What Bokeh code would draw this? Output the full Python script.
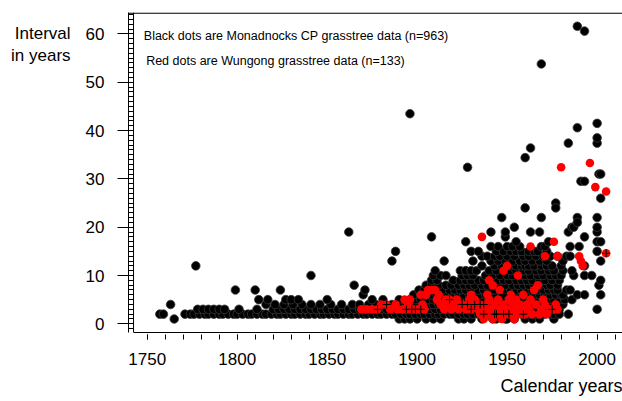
from bokeh.plotting import figure
from bokeh.models import Range1d, Span, Label, SingleIntervalTicker, Title
from bokeh.embed import file_html
from bokeh.resources import INLINE

FONT = "Liberation Sans"

# ---------------- Monadnocks CP (black dots): years listed per interval value ----------------
mon_1 = [1765, 1890, 1893, 1896, 1900, 1905, 1909, 1913, 1923, 1926, 1930, 1936, 1942, 1944,
         1949, 1950, 1954, 1960, 1964, 1968, 1976]
mon_2 = [1757, 1759, 1771, 1774, 1776, 1779, 1782, 1784, 1787, 1790, 1792, 1795, 1798, 1800,
         1803, 1806, 1808, 1811, 1814, 1816, 1819, 1822, 1824, 1827, 1830, 1832, 1835, 1838,
         1840, 1843, 1846, 1848, 1851, 1854, 1856, 1859, 1862, 1864, 1867, 1870, 1872, 1875,
         1878, 1880, 1883, 1886, 1888, 1891, 1894, 1896, 1899, 1902, 1904, 1907, 1910, 1912,
         1915, 1918, 1920, 1923, 1926, 1928, 1931, 1934, 1936, 1939, 1942, 1944, 1947, 1950,
         1952, 1955, 1958, 1960, 1963, 1966, 1968, 1971, 1974, 1976, 1979, 1984]
mon_3 = [1778, 1781, 1784, 1787, 1790, 1793, 1801, 1811, 1820, 1823, 1826, 1829, 1832, 1835,
         1838, 1841, 1844, 1847, 1850, 1853, 1856, 1859, 1862, 1865, 1868, 1871, 1874, 1877,
         1880, 1883, 1886, 1889, 1892, 1895, 1898, 1901, 1904, 1907, 1910, 1913, 1916, 1919,
         1922, 1925, 1928, 1931, 1934, 1937, 1940, 1943, 1946, 1949, 1952, 1955, 1958, 1961,
         1964, 1967, 1970, 1973, 1976, 1979, 2000]
mon_4 = [1763, 1816, 1821, 1826, 1831, 1836, 1841, 1846, 1852, 1858, 1864, 1868, 1873, 1877,
         1882, 1886, 1890, 1894, 1897, 1900, 1903, 1906, 1909, 1912, 1915, 1918, 1921, 1924,
         1927, 1930, 1933, 1936, 1939, 1942, 1945, 1948, 1951, 1954, 1957, 1960, 1963, 1966,
         1969, 1972, 1975, 1978, 1981]
mon_5 = [1812, 1817, 1827, 1830, 1834, 1850, 1875, 1881, 1890, 1896, 1899, 1902, 1906, 1909,
         1912, 1915, 1919, 1922, 1925, 1928, 1931, 1934, 1937, 1940, 1943, 1946, 1949, 1952,
         1955, 1958, 1961, 1964, 1967, 1970, 1973, 1976, 1979, 1982, 1986]
mon_6 = [1870, 1898, 1902, 1905, 1908, 1911, 1914, 1917, 1920, 1923, 1926, 1929, 1932, 1935,
         1938, 1941, 1944, 1947, 1950, 1953, 1956, 1959, 1962, 1965, 1968, 1971, 1974, 1977,
         1980, 1981, 1989, 1993, 2002]
mon_7 = [1799, 1810, 1824, 1871, 1901, 1904, 1907, 1911, 1914, 1918, 1921, 1924, 1927, 1930,
         1934, 1937, 1940, 1943, 1946, 1949, 1952, 1955, 1958, 1961, 1964, 1967, 1970, 1973,
         1976, 1978, 1983, 1985]
mon_8 = [1865, 1905, 1908, 1912, 1916, 1919, 1923, 1926, 1929, 1932, 1936, 1939, 1943, 1946,
         1949, 1953, 1956, 1959, 1962, 1965, 1968, 1972, 1974, 1978, 2001]
mon_9 = [1908, 1911, 1920, 1924, 1927, 1930, 1934, 1937, 1941, 1945, 1948, 1951, 1955, 1958,
         1961, 1964, 1968, 1971, 1975, 1979, 2002]
mon_10 = [1841, 1909, 1913, 1916, 1925, 1928, 1931, 1938, 1942, 1946, 1950, 1953, 1957, 1960,
          1963, 1967, 1970, 1974, 1977, 1980, 1987, 1993, 1997]
mon_11 = [1910, 1924, 1927, 1930, 1933, 1940, 1944, 1952, 1955, 1959, 1962, 1966, 1969, 1973,
          1976, 1981, 1986]
mon_12 = [1936, 1943, 1947, 1951, 1955, 1958, 1960, 1962, 1965, 1969, 1972, 1975, 1980, 1993]
mon_13 = [1886, 1915, 1931, 1941, 1945, 1949, 1953, 1957, 1960, 1964, 1968, 1972, 1981, 2002]
mon_14 = [1936, 1939, 1943, 1946, 1950, 1954, 1959, 1962, 1966, 1970, 1974, 1978, 1983, 1985]
mon_15 = [1888, 1930, 1934, 1944, 1948, 1952, 1955, 1958, 1962, 1965, 1967, 1972, 2000]
mon_16 = [1941, 1945, 1950, 1953, 1957, 1969, 1971, 1985, 1990]
mon_17 = [1927, 1955, 1973, 2000, 2002]
mon_18 = [1908, 1949, 1993]
mon_19 = [1862, 1941, 1949, 1963, 1968, 1984, 2000]
mon_20 = [1954, 1986, 1987, 2000]
# isolated Monadnocks outliers
mon_extra_year = [1777, 1947, 1969, 1989, 1989, 2000, 1977, 1977, 1960, 2002, 1991, 1993, 2001,
                  2002, 1928, 1960, 1963, 1984, 2000, 2000, 1989, 2000, 1896, 1969, 1989, 1993]
mon_extra_int = [12, 22, 22, 22, 21, 22, 25, 24, 24, 26, 29.5, 29.5, 31, 31, 32.4, 34.4, 36.4,
                 37.4, 37.4, 38.5, 40.6, 41.5, 43.5, 53.8, 61.6, 60.6]

mon_levels = {1: mon_1, 2: mon_2, 3: mon_3, 4: mon_4, 5: mon_5, 6: mon_6, 7: mon_7, 8: mon_8,
              9: mon_9, 10: mon_10, 11: mon_11, 12: mon_12, 13: mon_13, 14: mon_14,
              15: mon_15, 16: mon_16, 17: mon_17, 18: mon_18, 19: mon_19, 20: mon_20}

# ---------------- Wungong (red dots) ----------------
wun_year = [1869, 1872, 1875, 1878, 1880, 1883, 1885, 1888, 1889, 1892, 1893, 1894, 1895, 1896,
            1897, 1899, 1901, 1902, 1903, 1904, 1905, 1906, 1908, 1910, 1911, 1912, 1913, 1915,
            1916, 1917, 1918, 1919, 1920, 1922, 1923, 1925, 1927, 1928, 1929, 1930, 1930, 1932,
            1932, 1934, 1935, 1935, 1936, 1937, 1937, 1938, 1939, 1939, 1940, 1940, 1941, 1942,
            1942, 1943, 1943, 1944, 1945, 1946, 1946, 1947, 1948, 1948, 1949, 1950, 1950, 1951,
            1951, 1952, 1952, 1953, 1954, 1954, 1955, 1956, 1956, 1957, 1958, 1959, 1959, 1960,
            1961, 1962, 1963, 1963, 1964, 1965, 1966, 1967, 1968, 1969, 1970, 1971, 1971, 1972,
            1974, 1975, 1976, 1976, 1977, 1978, 1978, 1980, 1990, 1991, 1992, 1996, 1999, 2005,
            2005]
wun_int = [3, 3, 3, 3, 4, 4, 3, 4, 3, 3, 5, 3, 4, 5,
           3, 3, 3, 6, 4, 3, 6, 7, 7, 7, 5, 6, 4, 3,
           5, 4, 5, 3, 4, 5, 3, 4, 3, 4, 5, 3, 6, 4,
           5, 3, 2, 4, 18, 1, 3, 4, 2, 6, 5, 9, 3, 1,
           8, 4, 2, 2, 5, 7, 3, 1, 11, 4, 2, 12, 3, 5,
           2, 2, 6, 4, 1, 3, 5, 10, 2, 4, 3, 6, 2, 2,
           4, 3, 16, 5, 2, 7, 4, 8, 2, 3, 5, 4, 14, 2,
           3, 3, 3, 17, 4, 14, 3, 32.4, 14, 13, 12, 33.3, 28.3, 27.4,
           14.6]

# ---------------- black crosses drawn over some red dots ----------------
cross_year = [1878, 1883, 1894, 1897, 1899, 1902, 1918, 1925, 1928, 1930, 1932, 1935, 1937,
              1937, 1943, 1944, 1948, 1951, 1948, 1959, 1975, 2005]
cross_int = [3, 4, 3, 3, 3, 3, 5, 4, 4, 3, 4, 4, 4, 2, 2, 2, 2, 2, 6, 2, 3, 14.6]

x_ticks_major = 50
y_ticks_major = 10
x_title = "Calendar years"
y_title = "\u00a0\n\u00a0\n\u00a0\nInterval\nin years"
note_black = "Black dots are Monadnocks CP grasstree data (n=963)"
note_red = "Red dots are Wungong grasstree data (n=133)"

mon_x, mon_y = [], []
for lvl, years in mon_levels.items():
    mon_x += years
    mon_y += [lvl] * len(years)
mon_x += mon_extra_year
mon_y += mon_extra_int

p = figure(width=622, height=401, x_range=Range1d(1739.6, 2014.1), y_range=Range1d(-1.8, 64.45),
           output_backend="svg", toolbar_location=None,
           min_border_left=128, min_border_right=0, min_border_top=12, min_border_bottom=69)
p.outline_line_color = None
p.grid.visible = False
p.background_fill_color = "white"
p.border_fill_color = "white"

xa = p.xaxis[0]
xa.ticker = SingleIntervalTicker(interval=x_ticks_major, num_minor_ticks=5)
xa.bounds = (1742.4, 2014.1)
xa.axis_line_color = "black"
xa.major_tick_in = -2
xa.major_tick_out = 7
xa.minor_tick_in = -2
xa.minor_tick_out = 7
xa.major_tick_line_color = "black"
xa.minor_tick_line_color = "black"
xa.major_label_text_font = FONT
xa.major_label_text_font_size = "17px"
xa.major_label_text_color = "black"
xa.major_label_standoff = 13

ya = p.yaxis[0]
ya.ticker = SingleIntervalTicker(interval=y_ticks_major, num_minor_ticks=10)
ya.axis_line_color = "black"
ya.major_tick_in = 5
ya.major_tick_out = 11
ya.minor_tick_in = 5
ya.minor_tick_out = 0
ya.major_tick_line_color = "black"
ya.minor_tick_line_color = "black"
ya.major_label_text_font = FONT
ya.major_label_text_font_size = "17px"
ya.major_label_text_color = "black"
ya.major_label_standoff = 13
ya.axis_label = y_title
ya.axis_label_orientation = "horizontal"
ya.axis_label_align = "end"
ya.axis_label_standoff = 12
ya.axis_label_text_font = FONT
ya.axis_label_text_font_size = "17px"
ya.axis_label_text_font_style = "normal"
ya.axis_label_text_color = "black"
ya.axis_label_text_line_height = 1.12

p.add_layout(Title(text=x_title, align="right", offset=0, text_font=FONT,
                   text_font_size="18px", text_font_style="normal", text_color="black",
                   standoff=12), "below")

p.add_layout(Span(location=1742.4, dimension="height", line_color="black", line_width=1))
p.add_layout(Span(location=64.3, dimension="width", line_color="black", line_width=1.2))

p.scatter(mon_x, mon_y, marker="circle", size=8.6, fill_color="black", line_color="#3a3a3a",
          line_width=0.8)
p.scatter(wun_year, wun_int, marker="circle", size=8.6, fill_color="#ff0000", line_color=None)
p.scatter(cross_year, cross_int, marker="cross", size=8, line_color="black", line_width=1)

def lab(x, y, t, size):
    p.add_layout(Label(x=x, y=y, text=t, text_font=FONT, text_font_size=size,
                       text_color="black", text_baseline="alphabetic"))

lab(1748.1, 59.6, note_black, "12.5px")
lab(1749.4, 54.4, note_red, "12.5px")

open("out.html", "w").write(file_html(p, INLINE))
